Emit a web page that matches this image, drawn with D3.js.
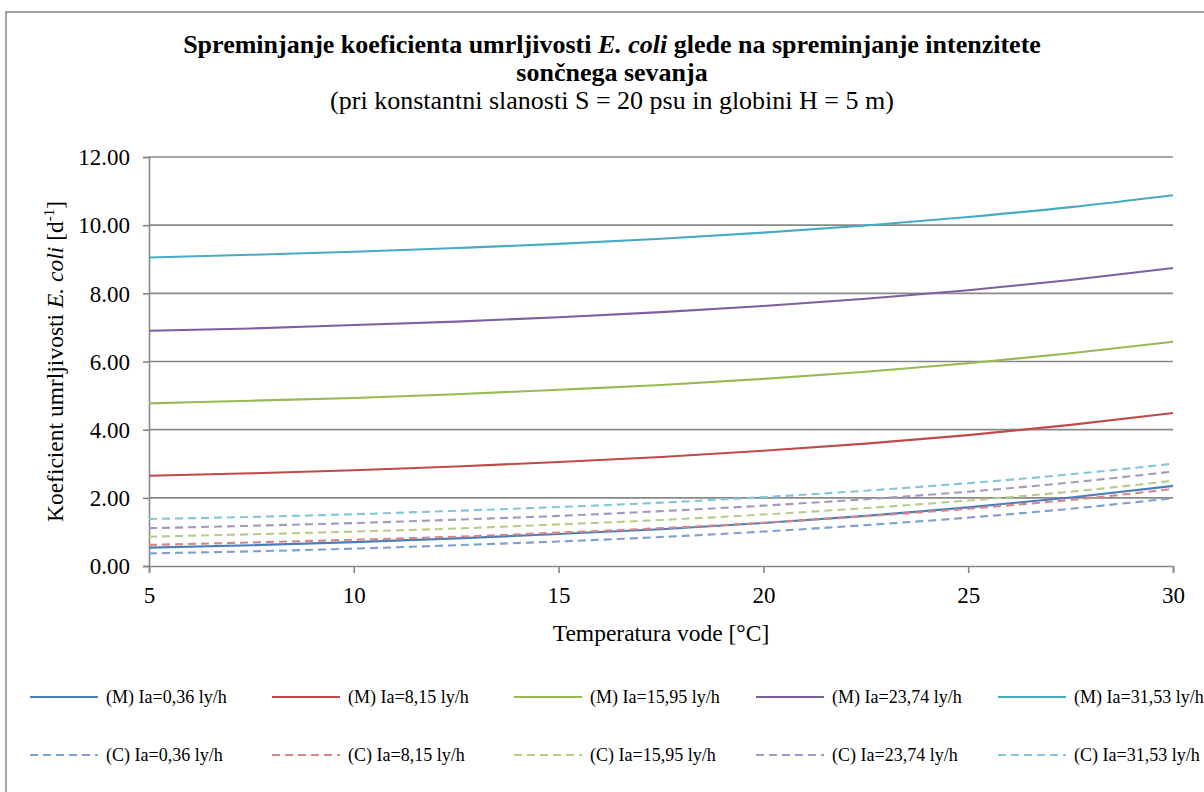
<!DOCTYPE html>
<html>
<head>
<meta charset="utf-8">
<script src="https://cdn.jsdelivr.net/npm/d3@7"></script>
<style>
  html, body { margin: 0; padding: 0; background: #fff; }
  svg text { font-family: "Liberation Serif", "Times New Roman", "DejaVu Serif", serif !important; }
</style>
</head>
<body>
<svg id="chart" width="1204" height="792"></svg>
<script>
// ---- data ----
const temperatures = [5, 7.5, 10, 12.5, 15, 17.5, 20, 22.5, 25, 27.5, 30];

const modelIa036 = [0.54, 0.61, 0.70, 0.81, 0.94, 1.08, 1.26, 1.47, 1.72, 2.01, 2.35];
const modelIa815 = [2.65, 2.72, 2.81, 2.92, 3.05, 3.20, 3.38, 3.59, 3.84, 4.14, 4.49];
const modelIa1595 = [4.77, 4.85, 4.93, 5.04, 5.17, 5.31, 5.49, 5.70, 5.95, 6.24, 6.58];
const modelIa2374 = [6.90, 6.97, 7.07, 7.17, 7.30, 7.45, 7.63, 7.84, 8.09, 8.39, 8.74];
const modelIa3153 = [9.05, 9.13, 9.22, 9.33, 9.45, 9.60, 9.78, 9.99, 10.24, 10.53, 10.88];

const calcIa036 = [0.37, 0.43, 0.51, 0.61, 0.72, 0.85, 1.01, 1.20, 1.42, 1.68, 1.99];
const calcIa815 = [0.62, 0.69, 0.77, 0.86, 0.98, 1.11, 1.27, 1.46, 1.68, 1.94, 2.26];
const calcIa1595 = [0.86, 0.93, 1.01, 1.10, 1.22, 1.35, 1.51, 1.70, 1.92, 2.18, 2.50];
const calcIa2374 = [1.11, 1.18, 1.26, 1.36, 1.47, 1.61, 1.77, 1.96, 2.18, 2.45, 2.77];
const calcIa3153 = [1.38, 1.44, 1.52, 1.62, 1.73, 1.86, 2.02, 2.21, 2.43, 2.69, 3.00];

const modelLabels = ["(M) Ia=0,36 ly/h", "(M) Ia=8,15 ly/h", "(M) Ia=15,95 ly/h", "(M) Ia=23,74 ly/h", "(M) Ia=31,53 ly/h"];
const calcLabels = ["(C) Ia=0,36 ly/h", "(C) Ia=8,15 ly/h", "(C) Ia=15,95 ly/h", "(C) Ia=23,74 ly/h", "(C) Ia=31,53 ly/h"];

const xTicks = [5, 10, 15, 20, 25, 30];
const yTicks = [0, 2, 4, 6, 8, 10, 12];

// ---- styling ----
const solidColors = ["#4A7EBB", "#BE4B48", "#98B954", "#7D60A0", "#46AAC5"];
const dashColors = ["#7E9FD3", "#D68785", "#B5CD8A", "#A895C4", "#83C5D9"];
const serif = "'Liberation Serif', 'Times New Roman', 'DejaVu Serif', serif";

const series = [
  ...[modelIa036, modelIa815, modelIa1595, modelIa2374, modelIa3153].map((v, i) =>
    ({ label: modelLabels[i], values: v, color: solidColors[i], dash: null })),
  ...[calcIa036, calcIa815, calcIa1595, calcIa2374, calcIa3153].map((v, i) =>
    ({ label: calcLabels[i], values: v, color: dashColors[i], dash: "8,5" }))
];

const svg = d3.select("#chart");
const gridColor = "#898989";

// outer chart frame (extends past the right/bottom edge like the reference)
svg.append("rect")
  .attr("x", 6).attr("y", 12).attr("width", 1212).attr("height", 800)
  .attr("fill", "#fff").attr("stroke", "#868686").attr("stroke-width", 1.5);

const plot = { left: 149, right: 1173, top: 157, bottom: 566 };
const x = d3.scaleLinear().domain([5, 30]).range([plot.left, plot.right]);
const y = d3.scaleLinear().domain([0, 12]).range([plot.bottom, plot.top]);

// gridlines
svg.append("g").selectAll("line").data(yTicks.filter(d => d > 0)).join("line")
  .attr("x1", plot.left).attr("x2", plot.right)
  .attr("y1", d => y(d)).attr("y2", d => y(d))
  .attr("stroke", gridColor).attr("stroke-width", 1.6);

// y axis
const yAxis = svg.append("g").attr("transform", `translate(${plot.left},0)`)
  .call(d3.axisLeft(y).tickValues(yTicks).tickFormat(d3.format(".2f")).tickSize(6).tickPadding(13));
yAxis.attr("font-family", serif);
yAxis.select(".domain").attr("stroke", gridColor).attr("stroke-width", 1.6);
yAxis.selectAll(".tick line").attr("stroke", gridColor).attr("stroke-width", 1.6);
yAxis.selectAll(".tick text").attr("font-size", 23).attr("fill", "#000").attr("dy", "0.34em");

// x axis
const xAxis = svg.append("g").attr("transform", `translate(0,${plot.bottom})`)
  .call(d3.axisBottom(x).tickValues(xTicks).tickFormat(d3.format("d")).tickSize(7).tickPadding(14));
xAxis.attr("font-family", serif);
xAxis.select(".domain").attr("stroke", gridColor).attr("stroke-width", 1.6);
xAxis.selectAll(".tick line").attr("stroke", gridColor).attr("stroke-width", 1.6);
xAxis.selectAll(".tick text").attr("font-size", 23).attr("fill", "#000");

// lines
const line = d3.line()
  .x((d, i) => x(temperatures[i]))
  .y(d => y(d))
  .curve(d3.curveMonotoneX);

svg.append("g").selectAll("path").data(series).join("path")
  .attr("d", d => line(d.values))
  .attr("fill", "none")
  .attr("stroke", d => d.color)
  .attr("stroke-width", 2.1)
  .attr("stroke-dasharray", d => d.dash);

// title
const title = svg.append("text").attr("x", 612).attr("y", 53)
  .attr("text-anchor", "middle").attr("font-size", 26).attr("font-weight", "bold");
title.append("tspan").text("Spreminjanje koeficienta umrljivosti ");
title.append("tspan").attr("font-style", "italic").text("E. coli");
title.append("tspan").text(" glede na spreminjanje intenzitete");

svg.append("text").attr("x", 612).attr("y", 81)
  .attr("text-anchor", "middle").attr("font-size", 26).attr("font-weight", "bold")
  .text("sončnega sevanja");

svg.append("text").attr("x", 612).attr("y", 109)
  .attr("text-anchor", "middle").attr("font-size", 26)
  .text("(pri konstantni slanosti S = 20 psu in globini H = 5 m)");

// axis titles
svg.append("text").attr("x", (plot.left + plot.right) / 2).attr("y", 641)
  .attr("text-anchor", "middle").attr("font-size", 23.5)
  .text("Temperatura vode [°C]");

const yt = svg.append("text")
  .attr("transform", `translate(63,${(plot.top + plot.bottom) / 2}) rotate(-90)`)
  .attr("text-anchor", "middle").attr("font-size", 23.5);
yt.append("tspan").text("Koeficient umrljivosti ");
yt.append("tspan").attr("font-style", "italic").text("E. coli");
yt.append("tspan").text(" [d");
yt.append("tspan").attr("font-size", 15).attr("dy", -9).text("-1");
yt.append("tspan").attr("dy", 9).text("]");

// legend
const legendCols = 5;
const legend = svg.append("g");
const items = legend.selectAll("g").data(series).join("g")
  .attr("transform", (d, i) => `translate(${30 + (i % legendCols) * 242},${i < legendCols ? 697 : 755})`);
items.append("line")
  .attr("x1", 0).attr("x2", 68).attr("y1", 0).attr("y2", 0)
  .attr("stroke", d => d.color).attr("stroke-width", 2.1)
  .attr("stroke-dasharray", d => d.dash);
items.append("text")
  .attr("x", 76).attr("y", 6).attr("font-size", 18)
  .text(d => d.label);

svg.selectAll("text").style("font-family", serif);
</script>
</body>
</html>
